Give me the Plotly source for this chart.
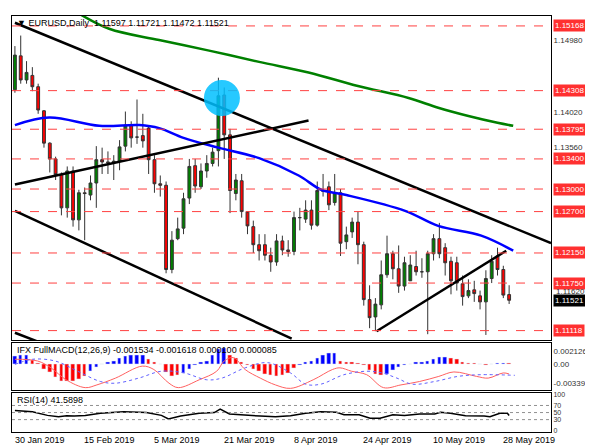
import plotly.graph_objects as go
from plotly.subplots import make_subplots

opens = [1.1432,1.1477,1.1445,1.1451,1.1436,1.1404,1.1361,1.1340,1.1319,1.1275,1.1324,1.1259,1.1295,1.1292,1.1308,1.1339,1.1336,1.1335,1.1337,1.1357,
         1.1385,1.1369,1.1371,1.1381,1.1339,1.1307,1.1305,1.1193,1.1234,1.1248,1.1288,1.1331,1.1303,1.1324,1.1334,1.1351,1.1425,1.1372,1.1294,1.1311,
         1.1270,1.1250,1.1226,1.1226,1.1212,1.1203,1.1231,1.1219,1.1217,1.1262,1.1260,1.1272,1.1252,1.1298,1.1303,1.1282,1.1295,1.1230,1.1243,1.1256,
         1.1226,1.1153,1.1130,1.1146,1.1186,1.1214,1.1194,1.1171,1.1178,1.1197,1.1190,1.1190,1.1214,1.1234,1.1222,1.1204,1.1202,1.1174,1.1158,1.1166,
         1.1158,1.1150,1.1181,1.1211,1.1193,1.11597]
closes = [1.1478,1.1445,1.1455,1.1436,1.1405,1.1361,1.1340,1.1319,1.1275,1.1324,1.1259,1.1295,1.1294,1.1308,1.1339,1.1336,1.1335,1.1337,1.1356,1.1385,
          1.1368,1.1369,1.1364,1.1339,1.1307,1.1305,1.1193,1.1232,1.1247,1.1287,1.1330,1.1304,1.1324,1.1334,1.1349,1.1424,1.1372,1.1298,1.1312,1.1270,
          1.1251,1.1226,1.1218,1.1212,1.1203,1.1231,1.1219,1.1217,1.1262,1.1262,1.1272,1.1252,1.1298,1.1297,1.1279,1.1295,1.1228,1.1239,1.1256,1.1226,
          1.1153,1.1129,1.1147,1.1186,1.1214,1.1194,1.1171,1.1202,1.1199,1.1190,1.1190,1.1214,1.1234,1.1214,1.1202,1.1178,1.1175,1.1157,1.1165,1.1161,
          1.1150,1.1181,1.1204,1.1193,1.1159,1.11521]
highs = [1.1490,1.1504,1.1470,1.1462,1.1440,1.1405,1.1362,1.1343,1.1322,1.1330,1.1330,1.1299,1.1302,1.1318,1.1357,1.1355,1.1350,1.1345,1.1365,1.1403,
         1.1390,1.1419,1.1400,1.1385,1.1345,1.1318,1.1310,1.1244,1.1262,1.1295,1.1340,1.1340,1.1334,1.1345,1.1355,1.1448,1.1435,1.1380,1.1320,1.1320,
         1.1268,1.1258,1.1240,1.1240,1.1222,1.1240,1.1238,1.1232,1.1270,1.1275,1.1285,1.1285,1.1310,1.1320,1.1310,1.1320,1.1300,1.1250,1.1262,1.1270,
         1.1230,1.1172,1.1155,1.1205,1.1238,1.1218,1.1225,1.1210,1.1212,1.1218,1.1208,1.1218,1.1240,1.1255,1.1228,1.1210,1.1210,1.1185,1.1180,1.1178,
         1.1165,1.1192,1.1212,1.1222,1.1198,1.11721]
lows = [1.1428,1.1440,1.1440,1.1430,1.1400,1.1355,1.1322,1.1312,1.1265,1.1262,1.1250,1.1245,1.1232,1.1285,1.1275,1.1320,1.1320,1.1312,1.1325,1.1350,
        1.1355,1.1360,1.1355,1.1320,1.1295,1.1290,1.1188,1.1188,1.1232,1.1240,1.1280,1.1295,1.1300,1.1315,1.1330,1.1330,1.1340,1.1268,1.1285,1.1262,
        1.1240,1.1215,1.1205,1.1205,1.1190,1.1198,1.1212,1.1210,1.1212,1.1245,1.1255,1.1246,1.1250,1.1290,1.1272,1.1278,1.1211,1.1220,1.1235,1.1200,
        1.1145,1.1115,1.1111,1.1140,1.1182,1.1180,1.1162,1.1165,1.1180,1.1185,1.1182,1.1107,1.1205,1.1208,1.1185,1.1160,1.1165,1.1145,1.1155,1.1150,
        1.1140,1.1106,1.1175,1.1185,1.1155,1.11472]
bars = list(range(len(opens)))

ma_slow_x = [10.2,16.2,24.8,33.4,42,50.5,59,67.7,72.8,78,83,85.7]
ma_slow = [1.1537,1.1513,1.1498,1.1484,1.1469,1.1455,1.1437,1.1421,1.1408,1.1397,1.1388,1.1384]
ma_fast_x = [0,5.9,14.5,21.4,24.8,29,35,42,48.8,52.7,57,67.1,72.8,80.2,85.7]
ma_fast = [1.1385,1.1395,1.1384,1.1385,1.1381,1.1368,1.1355,1.1341,1.1318,1.1299,1.1292,1.1271,1.1251,1.1238,1.1218]

levels = [1.15168,1.14308,1.13795,1.13400,1.13000,1.12700,1.12150,1.11750,1.11118]
level_labels = ["1.15168","1.14308","1.13795","1.13400","1.13000","1.12700","1.12150","1.11750","1.11118"]

# trend lines (bar index, price)
trend_lines = [((0,1.1521),(92.2,1.1228)), ((0,1.1271),(47.6,1.1101)),
               ((0,1.1306),(50.5,1.1391)), ((62.2,1.1111),(84.5,1.1218)),
               ((0,1.1109),(5,1.1094))]

hist_units = [22,25,25,10,2,-15,-25,-40,-50,-52,-50,-45,-38,-22,-10,-2,3,8,15,22,25,25,24,12,3,-2,-25,-38,-35,-28,
              -15,-3,3,8,25,42,45,25,15,5,-5,-15,-22,-30,-35,-38,-35,-28,-12,-5,3,8,15,25,30,30,8,5,3,1,
              -5,-20,-30,-35,-30,-20,-10,-3,0,3,5,7,12,18,18,15,12,5,2,1,-2,-5,-2,1,2,1]
hist_blue = [1,1,1,0,0,0,0,0,0,0,0,0,0,1,1,1,1,1,1,1,1,1,1,0,0,0,0,0,0,1,
             1,1,1,1,1,1,1,0,0,0,0,0,0,0,0,0,0,0,0,1,1,1,1,1,1,1,0,0,0,0,
             0,0,0,0,1,1,1,1,1,1,1,1,1,1,1,0,0,0,0,0,0,0,1,1,1,0]
hist = [u*5.81e-5 for u in hist_units]
macd_x = [0,3.9,6.2,8.8,12.1,14.1,17.3,21.9,23.9,26.5,28.1,31.7,34.7,36,37.6,39.6,42.2,44.8,47.4,51.3,54.6,55.9,57.9,60.5,63.4,66.4,69.6,72.9,75.5,79.4,81.4,84,85]
macd = [0.00076,0.00047,-0.00070,-0.00274,-0.00408,-0.00361,-0.00245,-0.00041,-0.00099,-0.00332,-0.00408,-0.00274,-0.00128,0.00047,0.00105,-0.00099,-0.00245,-0.00361,-0.00420,-0.00274,-0.00099,-0.00070,-0.00128,-0.00187,-0.00408,-0.00361,-0.00303,-0.00216,-0.00140,-0.00216,-0.00245,-0.00157,-0.00175]
sig_x = [0,3,6.9,10.8,14.7,17.3,21.3,25.2,29.1,33,35.6,39.6,43.5,47.4,50,52.6,56.6,60.5,63.1,65.7,68.3,72.2,76.2,80.1,86]
sig = [-0.00012,0.00076,0.00047,-0.00128,-0.00303,-0.00332,-0.00245,-0.00128,-0.00157,-0.00274,-0.00245,-0.00070,0.00018,-0.00157,-0.00349,-0.00349,-0.00187,-0.00128,-0.00157,-0.00245,-0.00349,-0.00303,-0.00216,-0.00187,-0.00198]

rsi_x = [0,3,5.6,7.5,8.9,10.2,12.1,14.7,18.7,22.6,25.2,26.4,28.5,31.7,34.3,35.3,36.9,39.6,42.2,44.8,47.4,50,52.6,55.3,56.6,59.2,61.1,62.8,65,67,69.6,72.2,73.2,74.9,77.5,80.7,81.7,83.4,84.7,85]
rsi = [56,52,42,38,41,40,42,48,52,50,42,32,40,48,50,60,46,44,40,38,41,48,52,51,44,44,34,34,44,42,46,46,51,48,41,40,38,48,48,41.59]

date_idx = [0,12,24,36,48,60,72,84]
date_labels = ["30 Jan 2019","15 Feb 2019","5 Mar 2019","21 Mar 2019","8 Apr 2019","24 Apr 2019","10 May 2019","28 May 2019"]

fig = make_subplots(rows=3, cols=1, shared_xaxes=True)
fig.add_trace(go.Candlestick(x=bars, open=opens, high=highs, low=lows, close=closes,
    increasing=dict(line=dict(color="#333333", width=1), fillcolor="#008000"),
    decreasing=dict(line=dict(color="#333333", width=1), fillcolor="#ff0000"),
    whiskerwidth=0, showlegend=False), row=1, col=1)
fig.add_trace(go.Scatter(x=ma_slow_x, y=ma_slow, mode="lines", line=dict(color="#008000", width=2.5, shape="spline"), showlegend=False), row=1, col=1)
fig.add_trace(go.Scatter(x=ma_fast_x, y=ma_fast, mode="lines", line=dict(color="#0000ff", width=2.5, shape="spline"), showlegend=False), row=1, col=1)
for (a, b) in trend_lines:
    fig.add_trace(go.Scatter(x=[a[0], b[0]], y=[a[1], b[1]], mode="lines", line=dict(color="black", width=2.5), showlegend=False), row=1, col=1)

fig.add_trace(go.Bar(x=bars, y=hist, marker_color=["#0000ff" if c else "#ff0000" for c in hist_blue], width=0.6, showlegend=False), row=2, col=1)
fig.add_trace(go.Scatter(x=macd_x, y=macd, mode="lines", line=dict(color="#ff6060", width=1, shape="spline"), showlegend=False), row=2, col=1)
fig.add_trace(go.Scatter(x=sig_x, y=sig, mode="lines", line=dict(color="#6060ff", width=1, dash="dot", shape="spline"), showlegend=False), row=2, col=1)

fig.add_trace(go.Scatter(x=rsi_x, y=rsi, mode="lines", line=dict(color="black", width=1.5), showlegend=False), row=3, col=1)
for lv in [70, 50, 30]:
    fig.add_trace(go.Scatter(x=[-0.5, 92.2], y=[lv, lv], mode="lines", line=dict(color="#909090", width=1, dash="dot"), showlegend=False, hoverinfo="skip"), row=3, col=1)

for lv in levels:
    fig.add_hline(y=lv, line=dict(color="#ff4040", width=1, dash="dash"), row=1, col=1)

fig.add_shape(type="circle", xref="x", yref="y", x0=35.6-3.1, x1=35.6+3.1, y0=1.1421-0.0024, y1=1.1421+0.0024,
              fillcolor="#00bfff", line=dict(width=0), opacity=0.85, layer="above")

font = "Liberation Sans"
ann = []
for lv, lb in zip(levels, level_labels):
    ann.append(dict(xref="paper", yref="y", x=1.004, y=lv, text=lb, showarrow=False, xanchor="left",
                    bgcolor="#ff3030", font=dict(color="white", size=8, family=font), borderpad=1))
ann.append(dict(xref="paper", yref="y", x=1.006, y=1.1164, text="1.11620", showarrow=False, xanchor="left",
                font=dict(color="#333", size=8, family=font)))
ann.append(dict(xref="paper", yref="y", x=1.004, y=1.11521, text="1.11521", showarrow=False, xanchor="left",
                bgcolor="black", font=dict(color="white", size=8, family=font), borderpad=1))
ann.append(dict(xref="paper", yref="paper", x=0.005, y=1.0, text="▼ EURUSD,Daily  1.11597 1.11721 1.11472 1.11521",
                showarrow=False, xanchor="left", yanchor="top", font=dict(size=9, family=font, color="black")))
ann.append(dict(xref="paper", yref="paper", x=0.005, y=0.2134, text="IFX FullMACD(12,26,9) -0.001534 -0.001618 0.000100 0.000085",
                showarrow=False, xanchor="left", yanchor="top", font=dict(size=9, family=font, color="black")))
ann.append(dict(xref="paper", yref="paper", x=0.005, y=0.0935, text="RSI(14) 41.5898",
                showarrow=False, xanchor="left", yanchor="top", font=dict(size=9, family=font, color="black")))
for di, dl in zip(date_idx, date_labels):
    ann.append(dict(xref="x3", yref="paper", x=di - 0.4, y=-0.003, text=dl, showarrow=False, xanchor="left", yanchor="top",
                    font=dict(size=9, family=font, color="black")))
fig.update_layout(annotations=ann)

ax = dict(showline=True, mirror=True, linecolor="black", linewidth=1, showgrid=False, zeroline=False)
fig.update_xaxes(range=[-0.5, 92.2], showticklabels=False, ticks="", rangeslider_visible=False, **ax)
fig.update_yaxes(side="right", ticks="", tickfont=dict(size=8, family=font, color="#333"), **ax)
fig.update_layout(
    width=593, height=446, margin=dict(l=4, r=50, t=8, b=22),
    plot_bgcolor="white", paper_bgcolor="white", bargap=0,
    yaxis=dict(domain=[0.2206, 1.0], range=[1.1099, 1.1530], tickvals=[1.1498, 1.1402, 1.1356], ticktext=["1.14980", "1.14020", "1.13560"]),
    yaxis2=dict(domain=[0.1007, 0.2134], range=[-0.0045, 0.0035], tickvals=[0.002126, 0, -0.003392], ticktext=["0.002126", "0.00", "-0.003392"]),
    yaxis3=dict(domain=[0, 0.0935], range=[-5, 105], tickvals=[100, 70, 50, 30, 0], ticktext=["100", "70", "50", "30", "0"],
                tickfont=dict(size=7, family=font)),
)
fig.write_html("out.html")
